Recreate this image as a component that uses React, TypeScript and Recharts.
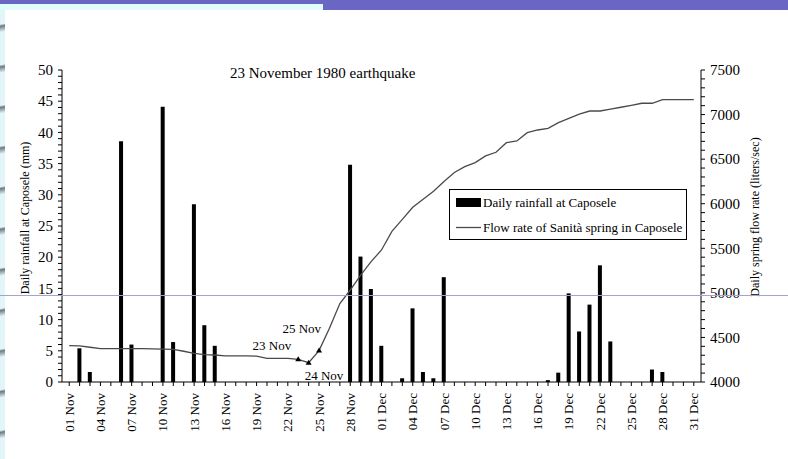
import { ComposedChart, Bar, Line, XAxis, YAxis } from 'recharts'

const FONT = '"Liberation Serif", "Times New Roman", serif'

const novDays = [
  '01 Nov', '02 Nov', '03 Nov', '04 Nov', '05 Nov', '06 Nov', '07 Nov', '08 Nov', '09 Nov', '10 Nov',
  '11 Nov', '12 Nov', '13 Nov', '14 Nov', '15 Nov', '16 Nov', '17 Nov', '18 Nov', '19 Nov', '20 Nov',
  '21 Nov', '22 Nov', '23 Nov', '24 Nov', '25 Nov', '26 Nov', '27 Nov', '28 Nov', '29 Nov', '30 Nov',
]
const decDays = [
  '01 Dec', '02 Dec', '03 Dec', '04 Dec', '05 Dec', '06 Dec', '07 Dec', '08 Dec', '09 Dec', '10 Dec',
  '11 Dec', '12 Dec', '13 Dec', '14 Dec', '15 Dec', '16 Dec', '17 Dec', '18 Dec', '19 Dec', '20 Dec',
  '21 Dec', '22 Dec', '23 Dec', '24 Dec', '25 Dec', '26 Dec', '27 Dec', '28 Dec', '29 Dec', '30 Dec',
  '31 Dec',
]

// daily rainfall at Caposele (mm)
const novRain = [
  0, 5.4, 1.6, 0, 0, 38.6, 6.0, 0, 0, 44.1,
  6.4, 0, 28.5, 9.1, 5.8, 0, 0, 0, 0, 0,
  0, 0, 0, 0, 0, 0, 0, 34.8, 20.1, 14.9,
]
const decRain = [
  5.8, 0, 0.6, 11.8, 1.6, 0.6, 16.8, 0, 0, 0,
  0, 0, 0, 0, 0, 0, 0.3, 1.5, 14.2, 8.1,
  12.4, 18.7, 6.5, 0, 0, 0, 2.0, 1.6, 0, 0,
  0,
]

// Sanità spring flow rate (liters/sec)
const novFlow = [
  4407, 4405, 4390, 4375, 4375, 4375, 4375, 4375, 4372, 4368,
  4365, 4345, 4322, 4306, 4303, 4292, 4292, 4292, 4290, 4266,
  4266, 4264, 4255, 4217, 4352, 4604, 4880, 5032, 5200, 5350,
]
const decFlow = [
  5481, 5690, 5824, 5960, 6050, 6140, 6250, 6350, 6416, 6461,
  6536, 6577, 6685, 6704, 6797, 6827, 6846, 6910, 6957, 7006,
  7040, 7040, 7060, 7082, 7104, 7127, 7127, 7167, 7167, 7167,
  7167,
]

const rainLabels = [0, 5, 10, 15, 20, 25, 30, 35, 40, 45, 50]
const flowLabels = [4000, 4500, 5000, 5500, 6000, 6500, 7000, 7500]
const markedDays = ['23 Nov', '24 Nov', '25 Nov']

const days = [...novDays, ...decDays]
const rainfall = [...novRain, ...decRain]
const flowRate = [...novFlow, ...decFlow]

const data = days.map((day, i) => ({ day, rain: rainfall[i], flow: flowRate[i] }))

// minor ticks: every 1 mm on the left, every 100 l/s on the right
const rainTicks = Array.from({ length: 51 }, (_, i) => i)
const flowTicks = Array.from({ length: 36 }, (_, i) => 4000 + i * 100)

const markerText: Record<string, { dx: number; dy: number; anchor: 'start' | 'end' }> = {
  '23 Nov': { dx: -7, dy: -9, anchor: 'end' },
  '24 Nov': { dx: -4, dy: 17, anchor: 'start' },
  '25 Nov': { dx: 2, dy: -18, anchor: 'end' },
}

function RainTick({ x, y, payload }: any) {
  if (!rainLabels.includes(payload.value)) return <g />
  return (
    <text x={x} y={y} dy="0.35em" textAnchor="end" fontFamily={FONT} fontSize={15} fill="#000">
      {payload.value}
    </text>
  )
}

function FlowTick({ x, y, payload }: any) {
  if (!flowLabels.includes(payload.value)) return <g />
  return (
    <text x={x} y={y} dy="0.35em" textAnchor="start" fontFamily={FONT} fontSize={15} fill="#000">
      {payload.value}
    </text>
  )
}

function DayTick({ x, y, payload }: any) {
  if (days.indexOf(payload.value) % 3 !== 0) return <g />
  return (
    <text
      x={x}
      y={y}
      dy="0.35em"
      transform={`rotate(-90 ${x} ${y})`}
      textAnchor="end"
      fontFamily={FONT}
      fontSize={13}
      fill="#000"
    >
      {payload.value}
    </text>
  )
}

function FlowDot({ cx, cy, payload, index }: any) {
  const t = markerText[payload.day]
  if (!t) return <g key={`d${index}`} />
  return (
    <g key={`d${index}`}>
      <path d={`M${cx},${cy - 3} L${cx + 3},${cy + 2} L${cx - 3},${cy + 2} Z`} fill="#000" />
      <text x={cx + t.dx} y={cy + t.dy} textAnchor={t.anchor} fontFamily={FONT} fontSize={13} fill="#000">
        {payload.day}
      </text>
    </g>
  )
}

export default function App() {
  return (
    <div style={{ position: 'absolute', left: 0, top: 0, width: 788, height: 459, background: '#fff', overflow: 'hidden' }}>
      {/* slide frame: top band and left edge */}
      <div style={{ position: 'absolute', left: 0, top: 0, width: 788, height: 10, background: '#6a66c3' }} />
      <div style={{ position: 'absolute', left: 0, top: 4, width: 323, height: 6, background: '#e2fbfb' }} />
      <div
        style={{
          position: 'absolute',
          left: 0,
          top: 10,
          width: 5,
          height: 449,
          background:
            'repeating-linear-gradient(170deg, #e2f6f8 0px, #e2f6f8 14px, #6f7a80 16px, #e2f6f8 22px, #e2f6f8 40px)',
        }}
      />

      <div style={{ position: 'absolute', left: 0, top: 0 }}>
        <ComposedChart width={788} height={459} data={data} margin={{ top: 70, right: 0, bottom: 0, left: 0 }}>
          <XAxis
            dataKey="day"
            interval={0}
            height={77}
            padding={{ left: 2, right: 2 }}
            tick={<DayTick />}
            tickSize={4}
            tickMargin={7}
            stroke="#000"
          />
          <YAxis
            yAxisId="rain"
            orientation="left"
            width={62}
            domain={[0, 50]}
            ticks={rainTicks}
            interval={0}
            tick={<RainTick />}
            tickSize={4}
            tickMargin={5}
            stroke="#000"
          />
          <YAxis
            yAxisId="flow"
            orientation="right"
            width={87}
            domain={[4000, 7500]}
            ticks={flowTicks}
            interval={0}
            tick={<FlowTick />}
            tickSize={4}
            tickMargin={5}
            stroke="#000"
          />
          <Bar yAxisId="rain" dataKey="rain" fill="#000" barSize={4} isAnimationActive={false} />
          <Line
            yAxisId="flow"
            dataKey="flow"
            type="linear"
            stroke="#4a4a4a"
            strokeWidth={1.3}
            dot={(p: any) => <FlowDot key={`d${p.index}`} {...p} />}
            activeDot={false}
            isAnimationActive={false}
          />
        </ComposedChart>
      </div>

      <svg width={788} height={459} style={{ position: 'absolute', left: 0, top: 0, pointerEvents: 'none' }}>
        <text x={230} y={78} fontFamily={FONT} fontSize={15} fill="#000">
          23 November 1980 earthquake
        </text>
        <text transform="translate(29,218) rotate(-90)" textAnchor="middle" fontFamily={FONT} fontSize={12} fill="#000">
          Daily rainfall at Caposele (mm)
        </text>
        <text transform="translate(759,217) rotate(-90)" textAnchor="middle" fontFamily={FONT} fontSize={12} fill="#000">
          Daily spring flow rate (liters/sec)
        </text>

        <g fontFamily={FONT} fontSize={13} fill="#000">
          <rect x={449.5} y={189.5} width={237} height={50} fill="#fff" stroke="#000" strokeWidth={1} />
          <rect x={456} y={198} width={25} height={9} fill="#000" />
          <text x={483} y={207}>Daily rainfall at Caposele</text>
          <line x1={456} x2={481} y1={227.5} y2={227.5} stroke="#4a4a4a" strokeWidth={1.3} />
          <text x={483} y={232}>Flow rate of Sanità spring in Caposele</text>
        </g>

        <line x1={0} x2={788} y1={295.5} y2={295.5} stroke="#a4a2d2" strokeWidth={1} />
      </svg>
    </div>
  )
}
